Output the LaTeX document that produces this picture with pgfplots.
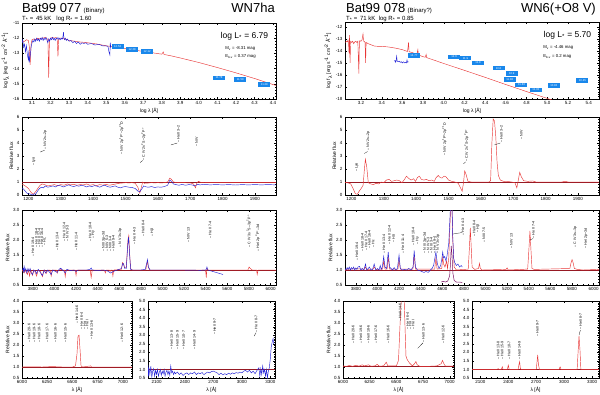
\documentclass[border=0pt]{standalone}
\usepackage{fontspec}
\setmainfont{Liberation Sans}
\usepackage{pgfplots}
\pgfplotsset{compat=1.18}
\definecolor{obs}{RGB}{35,35,215}
\definecolor{mod}{RGB}{232,55,55}
\definecolor{cont}{RGB}{150,25,35}
\definecolor{pur}{RGB}{125,20,100}
\definecolor{boxc}{RGB}{25,135,235}
\pgfplotsset{
 pan/.style={scale only axis, anchor=north west, clip=true,
  axis line style={line width=0.35pt},
  every tick/.style={line width=0.25pt,black},
  major tick length=2pt, minor tick length=1pt,
  tick label style={font=\fontsize{4.5}{5}\selectfont},
  label style={font=\fontsize{5}{6}\selectfont},
  /pgf/number format/assume math mode=true,
  /pgf/number format/1000 sep={},
  xticklabel style={yshift=1pt}, yticklabel style={xshift=1pt},
  xlabel style={yshift=3pt}, ylabel style={yshift=-3pt},
 },
 mods/.style={mod, line width=0.45pt},
 obss/.style={obs, line width=0.45pt},
 conts/.style={cont, line width=0.5pt},
 boxes/.style={draw=none, nodes near coords, point meta=explicit symbolic,
   nodes near coords align={center},
   every node near coord/.append style={fill=boxc, text=white, font=\fontsize{2.8}{3}\selectfont, inner sep=0.5pt, minimum width=12pt, minimum height=4.8pt, anchor=center}},
}
\tikzset{lid/.style={rotate=90, anchor=west, font=\fontsize{3.6}{4}\selectfont, inner sep=0.3pt}}
\newcommand{\lid}[3]{\node[lid] at (axis cs:#1,#2) {-- #3};}
\newcommand{\sed}{log f\textsubscript{λ} [erg s\textsuperscript{-1} cm\textsuperscript{-2} Å\textsuperscript{-1}]}
\begin{document}
\begin{tikzpicture}
\path[use as bounding box] (0pt,0pt) rectangle (600pt,-394pt);
% ---------------- titles
\node[anchor=base west, inner sep=0, font=\fontsize{13}{13}\selectfont] at (22pt,-12pt) {Bat99 077\,{\fontsize{6}{6}\selectfont(Binary)}};
\node[anchor=base east, inner sep=0, font=\fontsize{13}{13}\selectfont] at (275pt,-12pt) {WN7ha};
\node[anchor=base west, inner sep=0, font=\fontsize{6}{6}\selectfont] at (22pt,-20pt) {T\textsubscript{*} = \,45 kK \ \ log R\textsubscript{*} = 1.60};
\node[anchor=base west, inner sep=0, font=\fontsize{13}{13}\selectfont] at (346pt,-12pt) {Bat99 078\,{\fontsize{6}{6}\selectfont(Binary?)}};
\node[anchor=base east, inner sep=0, font=\fontsize{13}{13}\selectfont] at (596pt,-12pt) {WN6(+O8 V)};
\node[anchor=base west, inner sep=0, font=\fontsize{6}{6}\selectfont] at (346pt,-20pt) {T\textsubscript{*} = \,71 kK \ log R\textsubscript{*} = 0.85};

% ================= LEFT P1 (SED)
\begin{axis}[pan, at={(22pt,-23pt)}, width=254pt, height=76pt,
  xmin=3.046, xmax=4.416, ymin=-16, ymax=-11,
  xtick={3.1,3.2,...,4.41}, ytick={-16,-15,...,-11},
  minor x tick num=4, minor y tick num=4,
  xticklabel style={/pgf/number format/.cd,fixed,fixed zerofill,precision=1},
  xlabel={log λ [Å]}, ylabel={\sed}]
\addplot[mods] coordinates {(3.046,-12.25)(3.06,-12.2)(3.07,-12.1)(3.08,-12.15)(3.085,-12.5)(3.09,-13.75)(3.095,-12.4)(3.10,-12.1)(3.11,-12.05)(3.12,-12.1)(3.13,-12.0)(3.14,-12.05)(3.15,-12.0)(3.16,-12.0)(3.17,-11.95)(3.18,-12.0)(3.186,-12.2)(3.19,-14.6)(3.194,-12.1)(3.20,-12.0)(3.21,-11.95)(3.22,-12.0)(3.23,-11.95)(3.236,-12.1)(3.24,-13.2)(3.244,-12.1)(3.25,-12.0)(3.26,-12.0)(3.27,-12.0)(3.28,-12.05)(3.30,-12.15)(3.32,-12.18)(3.34,-12.22)(3.36,-12.25)(3.38,-12.27)(3.40,-12.3)(3.45,-12.38)(3.50,-12.5)(3.55,-12.58)(3.60,-12.68)(3.65,-12.78)(3.70,-12.87)(3.75,-12.96)(3.80,-13.05)(3.808,-12.9)(3.812,-13.07)(3.85,-13.16)(3.90,-13.3)(4.00,-13.6)(4.10,-13.93)(4.20,-14.28)(4.30,-14.65)(4.40,-15.05)(4.42,-15.12)};
\addplot[obss] coordinates {(3.046,-12.3)(3.05,-12.1)(3.055,-12.6)(3.06,-12.4)(3.065,-12.9)(3.07,-12.5)(3.075,-13.1)(3.08,-13.4)(3.083,-12.8)(3.085,-13.6)(3.09,-13.2)(3.095,-12.6)(3.10,-12.3)(3.105,-12.15)(3.11,-12.25)(3.115,-12.05)(3.12,-12.2)(3.125,-12.0)(3.13,-12.15)(3.135,-12.05)(3.14,-12.2)(3.145,-12.0)(3.15,-12.1)(3.155,-11.95)(3.16,-12.15)(3.165,-12.0)(3.17,-12.1)(3.175,-11.95)(3.18,-12.1)(3.185,-12.3)(3.19,-12.05)(3.195,-12.2)(3.20,-12.0)(3.205,-12.1)(3.21,-11.95)(3.215,-12.1)(3.22,-12.0)(3.225,-12.15)(3.23,-12.0)(3.235,-12.05)(3.24,-11.95)(3.245,-12.1)(3.25,-12.0)(3.255,-12.1)(3.26,-12.0)(3.265,-12.05)(3.27,-11.6)(3.272,-12.0)(3.275,-12.1)(3.28,-12.0)(3.285,-12.15)(3.29,-12.05)(3.30,-12.2)(3.31,-12.15)(3.32,-12.3)(3.33,-12.2)(3.34,-12.35)(3.35,-12.25)(3.36,-12.4)(3.37,-12.3)(3.38,-12.35)(3.39,-12.3)(3.40,-12.4)(3.42,-12.35)(3.44,-12.45)(3.46,-12.4)(3.48,-12.5)(3.50,-12.5)(3.51,-12.55)(3.515,-12.9)(3.52,-13.1)(3.522,-12.3)(3.525,-12.6)};
\addplot[boxes] table[meta=t] {
x y t
3.562 -12.55 12.53
3.640 -12.73 12.28
3.721 -12.85 12.12
4.109 -14.62 11.78
4.223 -14.73 11.59
4.353 -15.07 11.29
};
\node[anchor=base east, font=\fontsize{8.5}{9}\selectfont, inner sep=0] at (rel axis cs:0.97,0.8) {log L\textsubscript{*} = 6.79};
\node[anchor=base west, font=\fontsize{4.3}{5}\selectfont, inner sep=0] at (rel axis cs:0.8,0.65) {M\textsubscript{v} = -8.31 mag};
\node[anchor=base west, font=\fontsize{4.3}{5}\selectfont, inner sep=0] at (rel axis cs:0.8,0.54) {E\textsubscript{b-v} = 0.37 mag};
\end{axis}

% ================= LEFT P2 (UV)
\begin{axis}[pan, at={(22pt,-117pt)}, width=254pt, height=78pt,
  xmin=1180, xmax=1965, ymin=0, ymax=6,
  xtick={1200,1300,...,1900}, ytick={0,1,...,6},
  minor x tick num=4, minor y tick num=4, ylabel={Relative flux}]
\addplot[conts] coordinates {(1180,1)(1965,1)};
\addplot[mods] coordinates {(1180,0.85)(1190,0.7)(1200,0.5)(1208,0.2)(1215,0.05)(1222,0.25)(1230,0.55)(1236,0.75)(1242,0.85)(1250,0.8)(1260,0.7)(1270,0.75)(1280,0.8)(1290,0.72)(1300,0.8)(1310,0.75)(1320,0.85)(1330,0.78)(1340,0.82)(1350,0.75)(1360,0.8)(1370,0.78)(1380,0.85)(1390,0.75)(1400,0.8)(1410,0.72)(1420,0.8)(1430,0.76)(1440,0.82)(1450,0.75)(1460,0.8)(1470,0.85)(1480,0.9)(1490,0.92)(1500,0.95)(1510,0.93)(1520,0.95)(1530,0.9)(1538,0.6)(1544,0.15)(1548,0.5)(1553,1.0)(1558,0.9)(1570,0.92)(1580,0.95)(1590,0.93)(1600,0.95)(1610,0.93)(1620,0.95)(1630,1.0)(1637,1.3)(1642,1.2)(1648,1.0)(1660,0.95)(1680,0.95)(1700,0.93)(1710,0.85)(1716,0.55)(1720,0.9)(1725,1.05)(1735,0.95)(1750,0.97)(1800,0.97)(1900,0.97)(1965,0.97)};
\addplot[obss] coordinates {(1180,0.55)(1185,0.45)(1190,0.3)(1195,0.15)(1200,0.1)(1205,0.08)(1212,0.0)(1218,0.1)(1222,0.05)(1228,0.3)(1234,0.5)(1240,0.6)(1246,0.55)(1252,0.7)(1260,0.6)(1268,0.65)(1276,0.7)(1284,0.62)(1292,0.75)(1300,0.7)(1308,0.62)(1316,0.7)(1324,0.78)(1332,0.7)(1340,0.65)(1348,0.72)(1356,0.68)(1364,0.75)(1372,0.7)(1380,0.62)(1388,0.7)(1396,0.65)(1404,0.72)(1412,0.68)(1420,0.6)(1428,0.7)(1436,0.75)(1444,0.65)(1452,0.6)(1460,0.65)(1468,0.7)(1476,0.6)(1484,0.55)(1492,0.62)(1500,0.65)(1510,0.6)(1520,0.58)(1530,0.5)(1538,0.3)(1544,0.25)(1550,0.45)(1556,0.7)(1564,0.62)(1572,0.6)(1580,0.65)(1590,0.58)(1600,0.62)(1610,0.6)(1620,0.65)(1630,0.75)(1637,1.15)(1642,1.05)(1648,0.85)(1656,0.8)(1665,0.75)(1675,0.82)(1685,0.75)(1695,0.8)(1705,0.78)(1715,0.7)(1722,0.82)(1730,0.78)(1745,0.82)(1760,0.78)(1780,0.8)(1800,0.78)(1820,0.8)(1840,0.77)(1860,0.8)(1880,0.78)(1900,0.8)(1920,0.78)(1940,0.8)(1965,0.78)};
\lid{1216}{2.2}{Lyα}
\draw[line width=0.25pt] (axis cs:1236,3.3) -- (axis cs:1250,3.45);
\lid{1252}{3.45}{N\,V 2s–2p}
\lid{1487}{3.1}{N\,IV 2p\textsuperscript{1}P°–2p\textsuperscript{2}\textsuperscript{1}D}
\draw[line width=0.25pt] (axis cs:1545,2.5) -- (axis cs:1553,2.65);
\lid{1555}{2.65}{C\,IV 2s\,\textsuperscript{2}S–2p\,\textsuperscript{2}P°}
\draw[line width=0.25pt] (axis cs:1640,3.85) -- (axis cs:1660,4.0);
\lid{1663}{4.0}{He\,II 3–2}
\lid{1720}{3.7}{N\,IV}
\end{axis}

% ================= LEFT P3 (optical)
\begin{axis}[pan, at={(22pt,-210pt)}, width=254pt, height=75pt,
  xmin=3700, xmax=6050, ymin=0.5, ymax=3.0,
  xtick={3800,4000,...,6000}, ytick={0.5,1.0,...,3.0},
  minor x tick num=3, minor y tick num=4, ylabel={Relative flux},
  yticklabel style={/pgf/number format/.cd,fixed,fixed zerofill,precision=1}]
\addplot[conts] coordinates {(3700,1)(6050,1)};
\addplot[mods] coordinates {(3700,1.0)(3720,0.9)(3730,1.0)(3750,0.85)(3760,1.0)(3770,0.8)(3780,1.0)(3797,0.82)(3810,1.0)(3820,0.95)(3835,0.8)(3850,1.0)(3870,0.95)(3889,0.78)(3905,1.0)(3923,0.88)(3940,1.0)(3960,1.0)(3970,0.8)(3980,1.0)(4018,1.0)(4026,0.9)(4034,1.0)(4050,1.0)(4058,1.05)(4066,1.0)(4092,1.0)(4100,0.78)(4108,1.0)(4192,1.0)(4200,0.82)(4208,1.0)(4330,1.0)(4340,0.75)(4350,1.0)(4462,1.0)(4471,0.9)(4480,1.0)(4508,1.0)(4515,0.95)(4522,1.0)(4533,1.0)(4541,0.8)(4549,1.0)(4620,1.02)(4630,1.25)(4640,1.2)(4648,1.08)(4665,1.1)(4680,2.0)(4688,2.15)(4695,1.6)(4705,1.05)(4720,1.0)(4845,1.0)(4855,1.2)(4861,1.3)(4868,1.1)(4880,1.0)(5398,1.0)(5405,0.75)(5411,1.05)(5420,1.0)(5790,1.0)(5801,1.1)(5812,1.05)(5830,1.0)(5870,1.0)(5876,0.85)(5884,1.0)(6050,1.0)};
\addplot[obss] coordinates {(3700,1.0)(3710,1.05)(3715,0.95)(3720,1.15)(3725,0.95)(3735,1.05)(3745,0.9)(3755,1.05)(3765,0.95)(3775,1.05)(3785,0.9)(3797,0.85)(3810,1.0)(3825,0.95)(3835,0.88)(3850,1.02)(3865,0.95)(3880,0.85)(3889,0.82)(3905,1.0)(3920,0.9)(3935,1.0)(3950,0.95)(3970,0.85)(3985,1.0)(4000,0.97)(4026,0.92)(4045,1.03)(4058,1.06)(4075,1.0)(4090,0.95)(4100,0.9)(4115,1.02)(4150,0.98)(4180,1.0)(4200,0.95)(4220,1.0)(4300,1.0)(4330,1.02)(4340,1.07)(4350,1.0)(4400,0.98)(4450,1.0)(4490,0.97)(4520,0.9)(4545,0.95)(4580,1.0)(4620,1.05)(4632,1.22)(4640,1.2)(4650,1.05)(4665,1.05)(4678,1.8)(4686,2.1)(4694,1.6)(4705,1.02)(4720,1.0)(4800,1.0)(4840,1.02)(4852,1.2)(4861,1.35)(4870,1.1)(4885,1.0)(5000,1.0)(5200,1.0)(5350,0.99)(5400,1.0)(5408,1.05)(5411,1.1)(5420,1.0)(5560,0.85)};
\lid{3800}{1.45}{He\,II 19-4}
\lid{3833}{1.75}{He\,II 18-4}
\lid{3858}{1.75}{He\,II 17-4}
\lid{3885}{1.75}{He\,II 16-4}
\lid{3910}{1.8}{Hζ}
\lid{4026}{1.62}{He\,II 13-4}
\lid{4090}{1.95}{He\,II 12-4}
\lid{4120}{1.95}{N\,IV 3-3}
\lid{4200}{1.62}{He\,II 11-4}
\lid{4330}{1.95}{He\,II 10-4}
\lid{4360}{2.05}{Hγ}
\lid{4455}{1.6}{N\,III 3p–3d}
\lid{4485}{1.6}{N\,IV 5-3}
\lid{4515}{1.6}{N\,III 3-4}
\lid{4545}{1.6}{He\,II 9-4}
\lid{4610}{1.75}{N\,V 3s-3p}
\lid{4740}{1.85}{He\,II 4-3}
\lid{4820}{2.1}{He\,II 8-4}
\lid{4905}{2.1}{Hβ}
\lid{5240}{1.9}{N\,IV 13}
\lid{5440}{2.05}{He\,II 7-4}
\lid{5800}{1.75}{C\,IV 3s\,\textsuperscript{2}S–3p\,\textsuperscript{2}P°}
\lid{5880}{1.6}{He\,I 2p\,\textsuperscript{3}P°–3d}
\end{axis}

% ================= LEFT P4 (Halpha)
\begin{axis}[pan, at={(22pt,-301pt)}, width=110pt, height=77pt,
  xmin=6000, xmax=7090, ymin=0.5, ymax=4.0,
  xtick={6000,6250,6500,6750,7000}, ytick={0.5,1.0,...,4.0},
  minor x tick num=4, minor y tick num=4, ylabel={Relative flux}, xlabel={λ [Å]},
  yticklabel style={/pgf/number format/.cd,fixed,fixed zerofill,precision=1}]
\addplot[conts] coordinates {(6000,1)(7090,1)};
\addplot[mods] coordinates {(6000,1.0)(6100,1.01)(6200,1.0)(6300,1.02)(6400,1.0)(6500,1.0)(6530,1.05)(6545,1.6)(6555,2.4)(6565,2.45)(6575,1.8)(6585,1.05)(6600,1.0)(6680,1.05)(6690,1.0)(7090,1.0)};
\lid{6070}{2.1}{He\,II 20-6}
\lid{6120}{2.1}{He\,II 19-6}
\lid{6170}{2.1}{He\,II 18-6}
\lid{6250}{2.1}{He\,II 17-6}
\lid{6330}{2.1}{He\,II 16-6}
\lid{6430}{2.1}{He\,II 15-6}
\lid{6545}{2.95}{He\,II 14-6}
\lid{6590}{2.7}{He\,II 6-4}
\lid{6620}{2.7}{Hα}
\lid{6645}{2.7}{He\,I}
\lid{6690}{2.25}{He\,II 13-6}
\lid{6990}{2.1}{He\,II 12-6}
\end{axis}

% ================= LEFT P5 (IR)
\begin{axis}[pan, at={(148pt,-301pt)}, width=127pt, height=77pt,
  xmin=2010, xmax=3350, ymin=0.5, ymax=5.0,
  xtick={2100,2400,...,3300}, ytick={0.5,1.0,...,5.0},
  minor x tick num=4, minor y tick num=4, xlabel={λ [Å]},
  yticklabel style={/pgf/number format/.cd,fixed,fixed zerofill,precision=1}]
\addplot[conts] coordinates {(2010,1.02)(3350,1.02)};
\addplot[obss] coordinates {(2010,1.3)(2015,0.6)(2020,1.1)(2030,0.7)(2040,1.2)(2050,0.55)(2060,0.9)(2070,1.05)(2080,0.6)(2090,0.95)(2100,0.7)(2110,1.0)(2120,0.6)(2130,0.85)(2140,1.0)(2150,0.65)(2160,0.9)(2170,0.75)(2180,1.0)(2190,0.6)(2200,0.85)(2210,0.95)(2220,0.7)(2230,0.9)(2240,0.65)(2250,1.2)(2260,0.8)(2270,0.9)(2280,0.7)(2290,0.85)(2300,0.75)(2320,0.85)(2340,0.7)(2360,0.8)(2380,0.65)(2400,0.75)(2420,0.8)(2440,0.7)(2460,0.8)(2480,0.75)(2500,0.85)(2520,0.7)(2540,0.8)(2560,0.75)(2580,0.82)(2600,0.7)(2620,0.78)(2640,0.85)(2660,0.8)(2680,0.88)(2700,0.9)(2720,0.85)(2740,0.8)(2760,0.7)(2780,0.78)(2800,0.68)(2820,0.75)(2840,0.7)(2860,0.78)(2880,0.72)(2900,0.8)(2920,0.75)(2940,0.82)(2960,0.78)(2980,0.85)(3000,0.8)(3020,0.9)(3040,0.95)(3060,0.85)(3080,0.95)(3100,0.8)(3120,0.9)(3140,0.75)(3160,0.95)(3180,1.1)(3190,0.6)(3200,1.05)(3210,0.7)(3220,1.2)(3230,0.8)(3240,1.0)(3250,0.6)(3260,1.0)(3270,0.5)(3280,0.9)(3290,1.1)(3300,1.6)(3310,2.3)(3320,2.6)(3330,2.8)(3335,2.5)};
\lid{2260}{2.15}{He\,II 13-8}
\lid{2320}{2.15}{He\,II 15-9}
\lid{2385}{2.15}{He\,II 10-7}
\lid{2500}{2.15}{He\,II 14-9}
\lid{2712}{3.0}{He\,II 9-7}
\draw[line width=0.25pt] (axis cs:3130,2.95) -- (axis cs:3150,3.15);
\lid{3152}{3.15}{He\,II 8-7}
\end{axis}

% ================= RIGHT P1 (SED)
\begin{axis}[pan, at={(345pt,-22pt)}, width=254pt, height=77pt,
  xmin=3.046, xmax=5.5, ymin=-18, ymax=-11.6,
  xtick={3.2,3.4,...,5.41}, ytick={-18,-17,...,-12},
  minor x tick num=3, minor y tick num=4,
  xticklabel style={/pgf/number format/.cd,fixed,fixed zerofill,precision=1},
  xlabel={log λ [Å]}, ylabel={\sed}]
\addplot[mods] coordinates {(3.046,-13.3)(3.06,-13.2)(3.07,-13.25)(3.075,-13.1)(3.08,-13.3)(3.085,-14.2)(3.09,-12.7)(3.095,-15.0)(3.10,-13.2)(3.11,-13.3)(3.12,-13.2)(3.13,-13.4)(3.14,-13.25)(3.15,-13.2)(3.16,-13.3)(3.17,-13.2)(3.18,-15.9)(3.185,-13.2)(3.19,-13.15)(3.2,-13.2)(3.21,-13.1)(3.22,-12.6)(3.225,-13.2)(3.23,-13.2)(3.24,-13.3)(3.245,-15.0)(3.25,-13.3)(3.27,-13.4)(3.30,-13.5)(3.33,-13.6)(3.36,-13.62)(3.40,-13.63)(3.45,-13.66)(3.50,-13.72)(3.55,-13.8)(3.60,-13.9)(3.65,-14.05)(3.66,-13.3)(3.665,-14.07)(3.70,-14.15)(3.72,-14.22)(3.74,-14.3)(3.75,-13.9)(3.755,-14.33)(3.78,-14.42)(3.80,-14.48)(3.82,-14.53)(3.83,-14.3)(3.835,-14.56)(3.9,-14.75)(4.0,-15.05)(4.2,-15.62)(4.4,-16.2)(4.6,-16.8)(4.8,-17.38)(5.0,-17.95)(5.1,-18.25)};
\addplot[obss] coordinates {(3.52,-14.85)(3.53,-14.8)(3.535,-14.95)(3.54,-14.8)(3.545,-14.45)(3.55,-14.85)(3.56,-14.9)(3.57,-14.85)(3.58,-14.95)(3.59,-14.9)(3.60,-15.0)(3.61,-14.9)(3.62,-15.0)(3.63,-14.95)(3.64,-15.0)(3.645,-14.75)(3.65,-14.95)(3.66,-14.9)};
\addplot[boxes] table[meta=t] {
x y t
3.712 -14.38 14.77
4.100 -14.51 12.6
4.210 -14.60 11.9
4.332 -15.01 11.8
4.529 -15.43 10.8
4.657 -15.91 10.9
4.638 -16.41 11.82
4.751 -16.83 11.83
4.890 -17.25 11.33
5.063 -16.91 10.93
5.340 -16.47 10.45
};
\node[anchor=base east, font=\fontsize{8.5}{9}\selectfont, inner sep=0] at (rel axis cs:0.97,0.8) {log L\textsubscript{*} = 5.70};
\node[anchor=base west, font=\fontsize{4.3}{5}\selectfont, inner sep=0] at (rel axis cs:0.78,0.65) {M\textsubscript{v} = -4.46 mag};
\node[anchor=base west, font=\fontsize{4.3}{5}\selectfont, inner sep=0] at (rel axis cs:0.78,0.54) {E\textsubscript{b-v} = 0.2 mag};
\end{axis}

% ================= RIGHT P2 (UV)
\begin{axis}[pan, at={(345pt,-117pt)}, width=254pt, height=78pt,
  xmin=1180, xmax=1965, ymin=0, ymax=6,
  xtick={1200,1300,...,1900}, ytick={0,1,...,6},
  minor x tick num=4, minor y tick num=4, ylabel={Relative flux}]
\addplot[conts] coordinates {(1180,1)(1965,1)};
\addplot[mods] coordinates {(1180,0.97)(1190,0.93)(1198,0.85)(1205,0.5)(1212,0.1)(1218,0.05)(1224,0.3)(1230,0.5)(1236,0.75)(1240,2.0)(1243,2.75)(1247,2.2)(1252,0.95)(1260,0.85)(1268,0.8)(1276,0.9)(1284,0.85)(1292,1.0)(1300,0.95)(1308,1.15)(1316,1.2)(1324,1.05)(1332,1.1)(1340,1.15)(1348,1.1)(1356,0.95)(1364,1.2)(1370,1.45)(1376,1.3)(1384,1.15)(1392,1.25)(1398,1.05)(1404,1.35)(1410,1.45)(1416,1.2)(1424,1.15)(1432,1.2)(1440,1.1)(1448,1.15)(1456,1.05)(1462,1.35)(1468,1.5)(1474,1.35)(1480,1.3)(1486,1.45)(1492,1.4)(1500,1.15)(1510,1.05)(1520,1.0)(1530,0.9)(1538,0.5)(1542,0.3)(1546,0.9)(1550,1.85)(1554,1.6)(1560,1.05)(1570,1.0)(1590,1.0)(1610,1.0)(1625,1.0)(1630,1.1)(1634,4.0)(1638,5.85)(1642,5.7)(1646,4.5)(1650,2.5)(1654,1.5)(1660,1.15)(1670,1.05)(1690,1.02)(1705,0.95)(1711,0.55)(1716,1.2)(1720,1.75)(1725,1.4)(1732,1.1)(1745,1.05)(1760,1.08)(1770,1.0)(1850,1.0)(1860,1.05)(1870,1.0)(1965,1.0)};
\lid{1216}{1.75}{Lyα}
\draw[line width=0.25pt] (axis cs:1240,3.2) -- (axis cs:1250,3.35);
\lid{1252}{3.35}{N\,V 2s–2p}
\lid{1487}{3.0}{N\,IV 2p\textsuperscript{1}P°–2p\textsuperscript{2}\textsuperscript{1}D}
\draw[line width=0.25pt] (axis cs:1546,2.4) -- (axis cs:1553,2.55);
\lid{1555}{2.55}{C\,IV 2s\,\textsuperscript{2}S–2p\,\textsuperscript{2}P°}
\draw[line width=0.25pt] (axis cs:1642,3.85) -- (axis cs:1660,4.0);
\lid{1663}{4.0}{He\,II 3–2}
\lid{1725}{4.2}{N\,IV}
\end{axis}

% ================= RIGHT P3 (optical)
\begin{axis}[pan, at={(345pt,-210pt)}, width=254pt, height=75pt,
  xmin=3700, xmax=6050, ymin=0.5, ymax=3.0,
  xtick={3800,4000,...,6000}, ytick={0.5,1.0,...,3.0},
  minor x tick num=3, minor y tick num=4, ylabel={Relative flux},
  yticklabel style={/pgf/number format/.cd,fixed,fixed zerofill,precision=1}]
\addplot[conts] coordinates {(3700,1)(6050,1)};
\addplot[mods] coordinates {(3700,1.02)(3800,1.04)(3880,1.03)(3889,1.1)(3900,1.02)(3960,1.03)(3970,1.1)(3985,1.02)(4048,1.03)(4058,1.3)(4070,1.03)(4090,1.03)(4100,1.45)(4112,1.03)(4190,1.03)(4200,1.35)(4212,1.03)(4328,1.03)(4340,1.5)(4352,1.03)(4530,1.03)(4541,1.4)(4552,1.03)(4595,1.05)(4604,1.45)(4612,1.2)(4625,1.1)(4640,1.3)(4648,1.05)(4660,1.4)(4675,2.9)(4686,3.6)(4697,2.0)(4710,1.1)(4730,1.0)(4840,1.03)(4852,1.8)(4859,2.4)(4866,1.9)(4876,1.1)(4900,1.02)(4935,1.05)(4944,1.22)(4952,1.05)(4970,1.0)(5190,1.02)(5200,1.07)(5210,1.0)(5390,1.03)(5400,1.6)(5411,2.3)(5420,1.7)(5430,1.05)(5450,1.02)(5780,1.05)(5792,1.25)(5801,1.35)(5810,1.25)(5822,1.05)(5850,1.02)(5900,1.0)(6050,1.02)};
\addplot[obss] coordinates {(3700,1.05)(3710,1.0)(3720,1.08)(3730,1.02)(3740,1.1)(3750,1.0)(3760,1.08)(3770,1.03)(3780,1.1)(3790,1.0)(3800,1.07)(3810,1.02)(3820,1.1)(3835,1.12)(3845,1.0)(3860,1.05)(3875,1.0)(3890,1.2)(3900,1.0)(3915,1.05)(3925,1.1)(3940,1.0)(3955,1.02)(3970,1.2)(3985,1.0)(4000,1.05)(4015,1.0)(4026,1.15)(4035,1.02)(4045,1.1)(4058,1.45)(4070,1.1)(4085,1.05)(4100,1.6)(4112,1.1)(4125,1.05)(4140,1.0)(4155,1.08)(4170,1.0)(4185,1.05)(4200,1.5)(4212,1.05)(4230,1.0)(4250,1.02)(4270,1.0)(4290,1.05)(4310,1.0)(4330,1.1)(4340,1.65)(4352,1.1)(4370,1.0)(4390,0.98)(4410,0.95)(4430,0.92)(4450,0.95)(4470,0.92)(4490,1.0)(4505,1.05)(4520,1.15)(4541,1.6)(4555,1.2)(4570,1.05)(4585,1.15)(4595,1.35)(4604,1.6)(4612,1.4)(4622,1.45)(4634,1.3)(4645,1.5)(4660,1.9)(4672,2.8)(4680,3.5)(4688,3.5)(4696,2.2)(4705,1.4)(4715,1.25)(4730,1.15)(4745,1.2)(4760,1.1)(4775,1.15)(4785,1.1)};
\addplot[pur, line width=0.5pt] coordinates {(4590,0.6)(4610,0.62)(4630,0.6)(4650,0.63)(4668,0.8)(4676,1.2)(4683,1.8)(4690,1.5)(4698,0.9)(4710,0.65)(4730,0.6)(4760,0.6)(4785,0.58)};
\lid{3810}{1.3}{He\,II 19-4}
\lid{3860}{1.6}{He\,II 18-4}
\lid{3895}{1.65}{He\,II 17-4}
\lid{3925}{1.7}{He\,II 16-4}
\lid{3960}{1.75}{Hε}
\lid{4060}{1.55}{He\,II 13-4}
\lid{4110}{1.85}{He\,II 12-4}
\lid{4150}{1.9}{Hδ}
\lid{4235}{1.55}{He\,II 11-4}
\lid{4330}{1.8}{He\,II 10-4}
\lid{4370}{1.85}{Hγ}
\lid{4440}{1.55}{N\,III 3p–3d}
\lid{4470}{1.55}{N\,IV 5-3}
\lid{4500}{1.55}{N\,III 3-4}
\lid{4530}{1.55}{He\,II 9-4}
\lid{4560}{1.55}{N\,V 3s-3p}
\draw[line width=0.25pt] (axis cs:4700,2.2) -- (axis cs:4785,2.25);
\lid{4790}{2.15}{He\,II 4-3}
\lid{4895}{2.1}{He\,II 8-4}
\lid{4930}{2.25}{Hβ}
\lid{4985}{1.9}{N\,III 7-5}
\lid{5240}{1.7}{N\,IV 13}
\draw[line width=0.25pt] (axis cs:5412,2.0) -- (axis cs:5440,2.05);
\lid{5442}{2.05}{He\,II 7-4}
\lid{5830}{1.75}{C\,IV 3s–3p}
\lid{5930}{1.7}{He\,I 2p–3d}
\end{axis}

% ================= RIGHT P4 (Halpha)
\begin{axis}[pan, at={(343pt,-301pt)}, width=111pt, height=77pt,
  xmin=6000, xmax=7040, ymin=0.5, ymax=4.0,
  xtick={6000,6250,6500,6750,7000}, ytick={0.5,1.0,...,4.0},
  minor x tick num=4, minor y tick num=4, ylabel={Relative flux}, xlabel={λ [Å]},
  yticklabel style={/pgf/number format/.cd,fixed,fixed zerofill,precision=1}]
\addplot[conts] coordinates {(6000,1.04)(7040,1.04)};
\addplot[mods] coordinates {(6000,1.05)(6030,1.03)(6060,1.07)(6090,1.03)(6120,1.08)(6150,1.04)(6180,1.1)(6200,1.05)(6240,1.1)(6260,1.04)(6300,1.05)(6320,1.12)(6340,1.04)(6380,1.05)(6405,1.22)(6420,1.05)(6500,1.05)(6520,1.3)(6535,3.0)(6550,4.5)(6570,4.5)(6580,3.0)(6590,1.5)(6600,1.35)(6620,1.2)(6650,1.05)(6670,1.15)(6683,1.25)(6695,1.1)(6720,1.03)(6800,1.03)(6880,1.05)(6920,1.15)(6932,1.3)(6945,1.15)(6960,1.04)(7040,1.04)};
\lid{6096}{2.05}{He\,II 20-6}
\lid{6168}{2.05}{He\,II 19-6}
\lid{6237}{2.05}{He\,II 18-6}
\lid{6308}{2.05}{He\,II 17-6}
\lid{6424}{2.05}{He\,II 16-6}
\lid{6535}{3.05}{He\,II 14-6}
\lid{6605}{2.7}{He\,II 6-4}
\lid{6630}{2.7}{Hα}
\lid{6657}{2.7}{He\,I}
\draw[line width=0.25pt] (axis cs:6700,1.85) -- (axis cs:6750,2.1);
\lid{6752}{2.1}{He\,II 13-6}
\lid{6937}{2.05}{He\,II 12-6}
\end{axis}

% ================= RIGHT P5 (IR)
\begin{axis}[pan, at={(472pt,-301pt)}, width=127pt, height=77pt,
  xmin=2010, xmax=3375, ymin=0.5, ymax=5.0,
  xtick={2100,2400,...,3300}, ytick={0.5,1.0,...,5.0},
  minor x tick num=4, minor y tick num=4, xlabel={λ [Å]},
  yticklabel style={/pgf/number format/.cd,fixed,fixed zerofill,precision=1}]
\addplot[conts] coordinates {(2010,1)(3375,1)};
\addplot[mods] coordinates {(2010,1.0)(2280,1.0)(2290,1.05)(2300,1.0)(2325,1.0)(2335,1.15)(2345,1.0)(2390,1.0)(2400,1.25)(2410,1.0)(2505,1.0)(2515,1.3)(2522,1.45)(2530,1.05)(2540,1.0)(2700,1.0)(2708,1.4)(2716,1.85)(2724,1.3)(2735,1.0)(2945,1.0)(2957,1.15)(2968,1.0)(3140,1.0)(3150,2.0)(3160,2.95)(3170,2.2)(3180,1.0)(3375,1.0)};
\lid{2290}{1.55}{He\,II 13-8}
\lid{2335}{1.55}{He\,II 15-9}
\lid{2408}{1.55}{He\,II 10-7}
\lid{2520}{1.55}{He\,II 14-9}
\lid{2712}{2.9}{He\,II 9-7}
\draw[line width=0.25pt] (axis cs:3160,3.0) -- (axis cs:3175,3.3);
\lid{3177}{3.3}{He\,II 8-7}
\end{axis}
\end{tikzpicture}
\end{document}
